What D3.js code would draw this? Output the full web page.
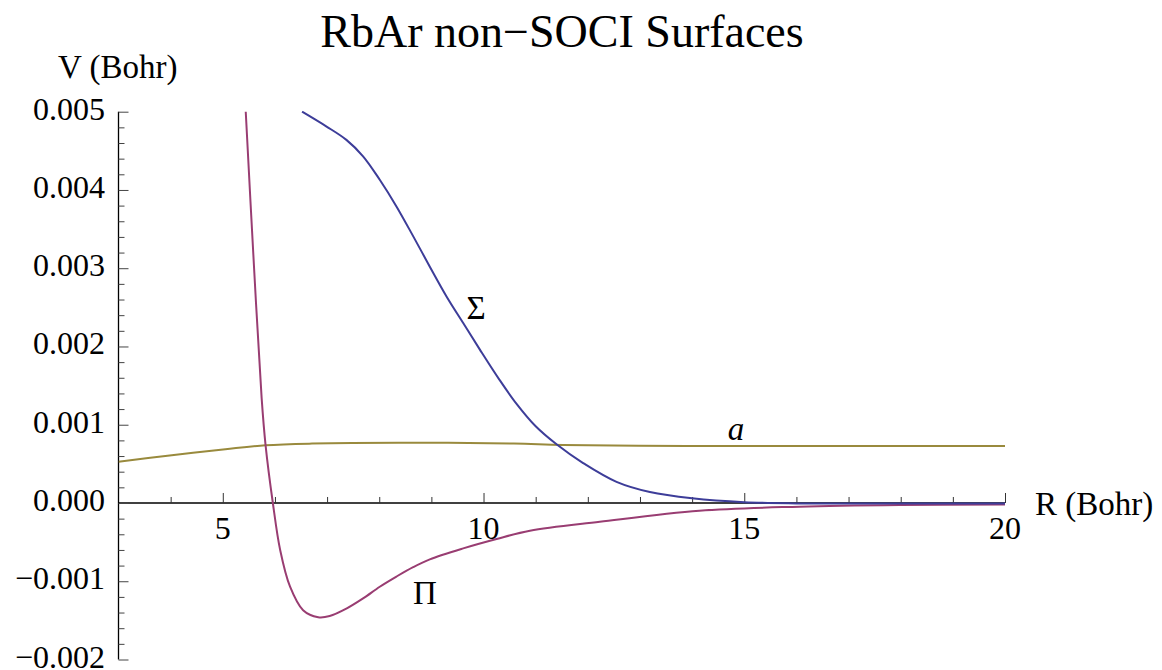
<!DOCTYPE html>
<html>
<head>
<meta charset="utf-8">
<script src="https://cdn.jsdelivr.net/npm/d3@7"></script>
<style>
  html, body { margin: 0; padding: 0; background: #fff; }
  svg { display: block; }
  svg text { font-family: "Liberation Serif", "DejaVu Serif", Times, serif; fill: #000; }
</style>
</head>
<body>
<svg id="chart" width="1162" height="670"></svg>
<script>
// ---- Data ----
const title = "RbAr non\u2212SOCI Surfaces";
const xLabel = "R (Bohr)";
const yLabel = "V (Bohr)";

const xMajorTicks = [5, 10, 15, 20];
const xMinorTicks = [4, 6, 7, 8, 9, 11, 12, 13, 14, 16, 17, 18, 19];
const yMajorTicks = [-0.002, -0.001, 0.000, 0.001, 0.002, 0.003, 0.004, 0.005];
const yTickLabels = ["\u22120.002", "\u22120.001", "0.000", "0.001", "0.002", "0.003", "0.004", "0.005"];

const sigmaR = [6.52, 6.99, 7.37, 7.69, 8.01, 8.33, 8.65, 8.97, 9.29, 9.61, 9.93, 10.3, 10.63, 11.0, 11.4, 11.91, 12.55, 13.19, 14.0, 15.0, 16.0, 17.0, 18.0, 19.0, 20.0];
const sigmaV = [0.00500, 0.00481, 0.00464, 0.00443, 0.00413, 0.00379, 0.00341, 0.00302, 0.00264, 0.00230, 0.00196, 0.00158, 0.00127, 0.00098, 0.00075, 0.00051, 0.00027, 0.00014, 0.00006, 0.00001, -0.000005, -0.000008, -0.000007, -0.000006, -0.000005];

const piR = [5.44, 5.6, 5.745, 5.82, 5.96, 6.10, 6.29, 6.54, 6.83, 7.05, 7.37, 7.69, 8.01, 8.33, 8.65, 8.97, 9.61, 10.25, 10.89, 12.23, 14.14, 16.06, 17.98, 20];
const piV = [0.0050, 0.0030, 0.00134, 0.00074, 0.0, -0.00060, -0.00107, -0.00137, -0.00146, -0.001445, -0.00135, -0.00122, -0.00107, -0.00094, -0.00082, -0.00072, -0.00058, -0.00046, -0.000355, -0.00024, -0.000098, -0.000047, -0.000026, -0.00002];

const aR = [3, 3.94, 5.05, 5.82, 6.71, 8.37, 10.58, 11.52, 13.9, 16, 18, 20];
const aV = [0.000528, 0.000605, 0.000687, 0.000737, 0.000759, 0.000771, 0.000759, 0.000742, 0.000729, 0.000728, 0.000728, 0.000729];

const seriesNames = ["\u03A3", "\u03A0", "a"];
const seriesColors = ["#3d3d99", "#993d72", "#998a3d"];

// ---- Drawing ----
const FONT = "'Liberation Serif', 'DejaVu Serif', Times, serif";
const svg = d3.select("#chart");
const x = d3.scaleLinear().domain([3, 20]).range([118.5, 1005]);
const y = d3.scaleLinear().domain([-0.002, 0.005]).range([659.5, 111.7]);

svg.append("defs").append("clipPath").attr("id", "clip")
  .append("rect").attr("x", x(3)).attr("y", y(0.005) - 1)
  .attr("width", x(20) - x(3) + 1).attr("height", y(-0.002) - y(0.005) + 2);

// X axis (at V = 0), ticks pointing up
const xAxisMajor = d3.axisTop(x).tickValues(xMajorTicks).tickSize(10).tickFormat("");
const xAxisMinor = d3.axisTop(x).tickValues(xMinorTicks).tickSize(6).tickFormat("");
const gx1 = svg.append("g").attr("transform", `translate(0,${y(0)})`).call(xAxisMajor);
const gx2 = svg.append("g").attr("transform", `translate(0,${y(0)})`).call(xAxisMinor);
gx1.select(".domain").attr("stroke", "#000").attr("stroke-width", 1.3).attr("d", `M${x(3)},0H${x(20)}`);
gx2.select(".domain").remove();
[gx1, gx2].forEach(g => g.selectAll(".tick line").attr("stroke", "#333").attr("stroke-width", 1));
svg.append("g").selectAll("text").data(xMajorTicks).join("text")
  .attr("x", d => x(d)).attr("y", y(0) + 36)
  .attr("text-anchor", "middle").attr("font-family", FONT).attr("font-size", 32).text(d => d);

// Y axis at R = 3, ticks pointing right
const yMinor = d3.range(-0.002, 0.00501, 0.0002).map(v => +v.toFixed(4))
  .filter(v => !yMajorTicks.some(m => Math.abs(m - v) < 1e-9));
const yAxisMajor = d3.axisRight(y).tickValues(yMajorTicks).tickSize(10).tickFormat("");
const yAxisMinor = d3.axisRight(y).tickValues(yMinor).tickSize(6).tickFormat("");
const gy1 = svg.append("g").attr("transform", `translate(${x(3)},0)`).call(yAxisMajor);
const gy2 = svg.append("g").attr("transform", `translate(${x(3)},0)`).call(yAxisMinor);
gy1.select(".domain").attr("stroke", "#000").attr("stroke-width", 1.3).attr("d", `M0,${y(-0.002)}V${y(0.005)}`);
gy2.select(".domain").remove();
[gy1, gy2].forEach(g => g.selectAll(".tick line").attr("stroke", "#444").attr("stroke-width", 1));
svg.append("g").selectAll("text").data(yMajorTicks).join("text")
  .attr("x", 105).attr("y", d => y(d) + 8)
  .attr("text-anchor", "end").attr("font-family", FONT).attr("font-size", 32)
  .text((d, i) => yTickLabels[i]);

// Axis labels and title
svg.append("text").attr("x", 58).attr("y", 78).attr("font-family", FONT).attr("font-size", 33).text(yLabel);
svg.append("text").attr("x", 1035).attr("y", 515).attr("font-family", FONT).attr("font-size", 33).text(xLabel);
svg.append("text").attr("x", 562).attr("y", 47).attr("text-anchor", "middle").attr("font-family", FONT).attr("font-size", 46).text(title);

// Curves
const line = d3.line().x(d => x(d[0])).y(d => y(d[1])).curve(d3.curveCatmullRom.alpha(0.5));
const allSeries = [
  sigmaR.map((r, i) => [r, sigmaV[i]]),
  piR.map((r, i) => [r, piV[i]]),
  aR.map((r, i) => [r, aV[i]])
];
const gLines = svg.append("g").attr("clip-path", "url(#clip)");
[2, 1, 0].forEach(k => {
  gLines.append("path").datum(allSeries[k])
    .attr("fill", "none").attr("stroke", seriesColors[k])
    .attr("stroke-width", 2).attr("stroke-linejoin", "round")
    .attr("d", line);
});

// Curve labels
svg.append("text").attr("x", 476).attr("y", 319).attr("text-anchor", "middle").attr("font-family", FONT).attr("font-size", 33).text(seriesNames[0]);
svg.append("text").attr("x", 425).attr("y", 604).attr("text-anchor", "middle").attr("font-family", FONT).attr("font-size", 33).text(seriesNames[1]);
svg.append("text").attr("x", 736).attr("y", 440).attr("text-anchor", "middle").attr("font-family", FONT).attr("font-size", 33).attr("font-style", "italic").text(seriesNames[2]);
</script>
</body>
</html>
